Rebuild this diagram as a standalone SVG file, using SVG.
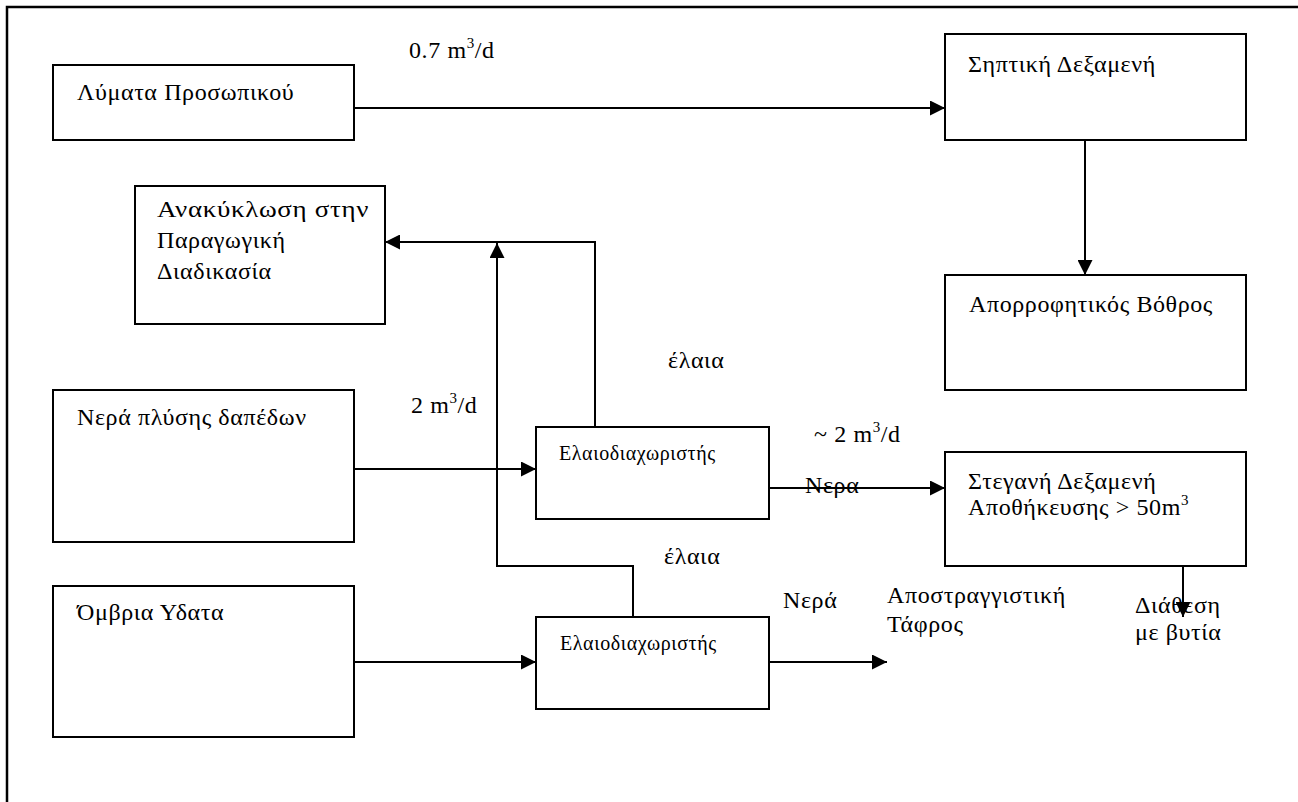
<svg xmlns="http://www.w3.org/2000/svg" width="1298" height="802" viewBox="0 0 1298 802" font-family="'Liberation Serif', 'DejaVu Serif', serif">
<style>
.box{fill:#fff;stroke:#000;stroke-width:2}
.ln{fill:none;stroke:#000;stroke-width:2}
.t{font-family:'Liberation Serif','DejaVu Serif',serif;font-size:24px;fill:#000;letter-spacing:0.6px}
.sm{font-size:20px;letter-spacing:0.6px}
.sup{font-size:15px}
</style>
<defs>
<marker id="ah" markerWidth="15" markerHeight="15" refX="15" refY="7.5" orient="auto" markerUnits="userSpaceOnUse">
<path d="M0,0 L15,7.5 L0,15 Z" fill="#000"/>
</marker>
</defs>
<rect width="1298" height="802" fill="#fff"/>
<path d="M7,802 L7,7 L1298,7" fill="none" stroke="#000" stroke-width="2.5"/>
<g id="connectors">
<path class="ln" d="M354,108 L945,108" marker-end="url(#ah)"/>
<path class="ln" d="M1085,140 L1085,275" marker-end="url(#ah)"/>
<path class="ln" d="M595,427 L595,242 L385,242" marker-end="url(#ah)"/>
<path class="ln" d="M633,617 L633,566 L497,566 L497,243" marker-end="url(#ah)"/>
<path class="ln" d="M354,469 L536,469" marker-end="url(#ah)"/>
<path class="ln" d="M354,662 L536,662" marker-end="url(#ah)"/>
<path class="ln" d="M769,488 L945,488" marker-end="url(#ah)"/>
<path class="ln" d="M770,662 L887,662" marker-end="url(#ah)"/>
<path class="ln" d="M1183,566 L1183,617" marker-end="url(#ah)"/>
</g>
<g id="n-lymata">
<rect class="box" x="53" y="65" width="301" height="75"/>
<text class="t" x="77" y="100">Λύματα Προσωπικού</text>
</g>
<g id="n-sipitiki">
<rect class="box" x="945" y="34" width="301" height="106"/>
<text class="t" x="968" y="72">Σηπτική Δεξαμενή</text>
</g>
<g id="n-aporrof">
<rect class="box" x="945" y="275" width="301" height="115"/>
<text class="t" x="969" y="312">Απορροφητικός Βόθρος</text>
</g>
<g id="n-anakyklosi">
<rect class="box" x="135" y="186" width="250" height="138"/>
<text class="t" x="157" y="217" textLength="212" lengthAdjust="spacingAndGlyphs">Ανακύκλωση στην</text>
<text class="t" x="157" y="248">Παραγωγική</text>
<text class="t" x="157" y="279">Διαδικασία</text>
</g>
<g id="n-nera-plysis">
<rect class="box" x="53" y="390" width="301" height="152"/>
<text class="t" x="77" y="425">Νερά πλύσης δαπέδων</text>
</g>
<g id="n-omvria">
<rect class="box" x="53" y="586" width="301" height="151"/>
<text class="t" x="77" y="620">Όμβρια Υδατα</text>
</g>
<g id="n-elaio1">
<rect class="box" x="536" y="427" width="233" height="92"/>
<text class="t sm" x="559" y="460">Ελαιοδιαχωριστής</text>
</g>
<g id="n-elaio2">
<rect class="box" x="536" y="617" width="233" height="92"/>
<text class="t sm" x="560" y="650">Ελαιοδιαχωριστής</text>
</g>
<g id="n-stegani">
<rect class="box" x="945" y="452" width="301" height="114"/>
<text class="t" x="968" y="489">Στεγανή Δεξαμενή</text>
<text class="t" x="968" y="515">Αποθήκευσης &gt; 50m<tspan class="sup" dy="-10">3</tspan></text>
</g>
<g id="labels">
<text class="t" x="409" y="58">0.7 m<tspan class="sup" dy="-10">3</tspan><tspan dy="10">/d</tspan></text>
<text class="t" x="411" y="413">2 m<tspan class="sup" dy="-10">3</tspan><tspan dy="10">/d</tspan></text>
<text class="t" x="814" y="442">~ 2 m<tspan class="sup" dy="-10">3</tspan><tspan dy="10">/d</tspan></text>
<text class="t" x="668" y="368">έλαια</text>
<text class="t" x="664" y="564">έλαια</text>
<text class="t" x="805" y="493">Νερα</text>
<text class="t" x="783" y="608">Νερά</text>
<text class="t" x="887" y="603">Αποστραγγιστική</text>
<text class="t" x="887" y="632">Τάφρος</text>
<text class="t" x="1135" y="613">Διάθεση</text>
<text class="t" x="1135" y="640">με βυτία</text>
</g>
</svg>
